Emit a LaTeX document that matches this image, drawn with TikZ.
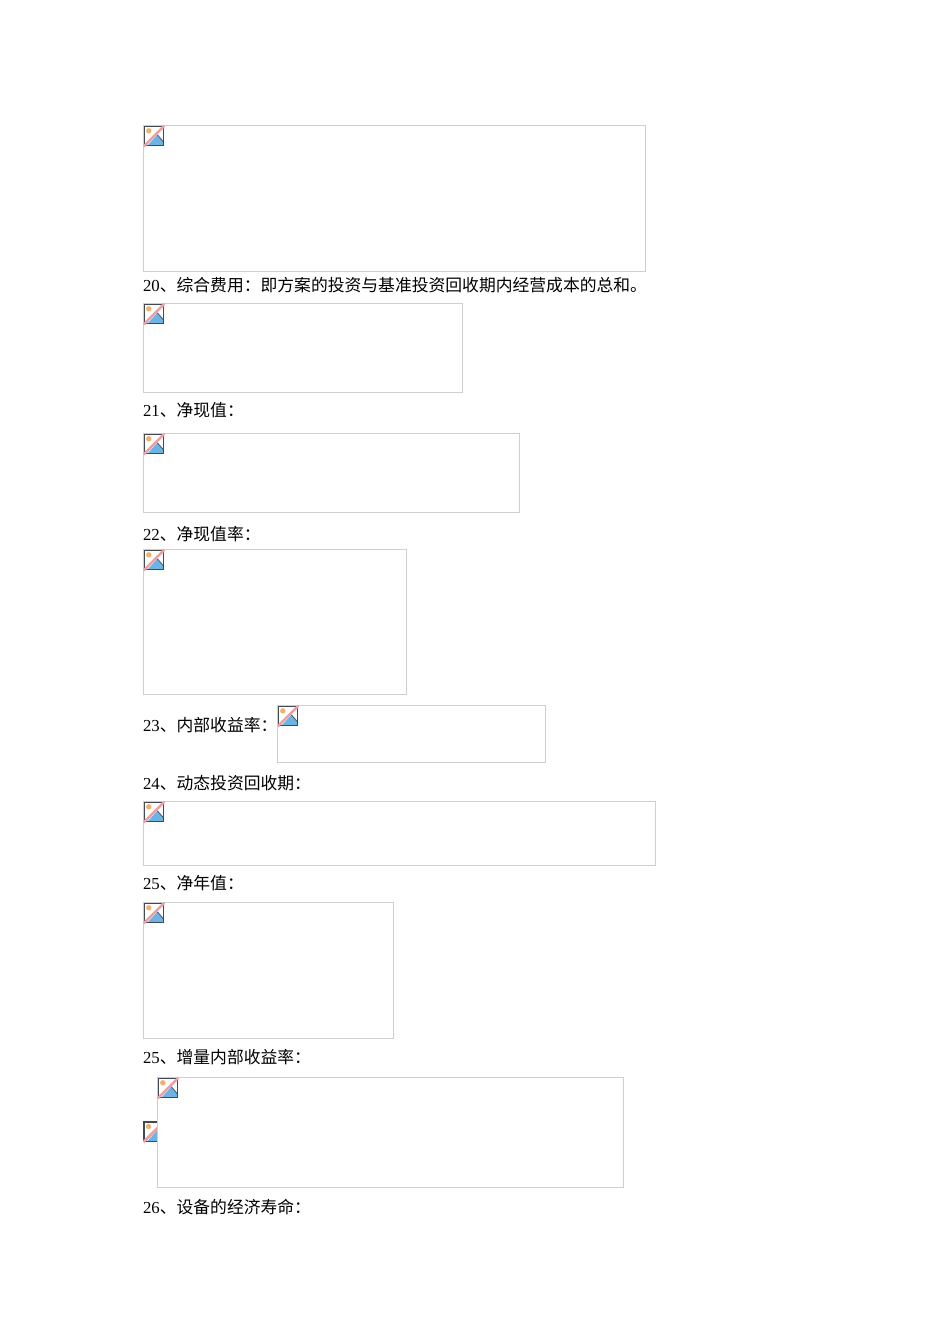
\documentclass[tikz,border=0pt]{standalone}
\usepackage{fontspec}
\setmainfont{Liberation Serif}
\newfontfamily\cjk{Noto Sans CJK SC}
\definecolor{boxgray}{HTML}{CFCFCF}
\definecolor{icondark}{HTML}{3F4A55}
\definecolor{iconblue}{HTML}{6DB3E3}
\definecolor{iconsun}{HTML}{F2B06E}
\definecolor{iconslash}{HTML}{E8A0A4}
\newcommand{\brokenicon}[2]{%
  \begin{scope}[shift={(#1,#2)}]
    \fill[white] (0,0) rectangle (19.5,19.5);
    \fill[iconsun] (4.5,4.5) circle (2.7);
    \fill[iconblue] (3,19.5) -- (13,8.5) -- (19.5,16) -- (19.5,19.5) -- cycle;
    \draw[icondark!70!iconblue,line width=1] (13,8.5) -- (19.5,16);
    \draw[icondark,line width=1.2] (0,0) rectangle (19.5,19.5);
    \draw[iconslash,line width=2.5] (-0.5,20) -- (20,-0.5);
  \end{scope}}
\newcommand{\imgbox}[5]{%
  \node[imgframe,anchor=north west,minimum width=#4-#2,minimum height=#5-#3] (#1) at (#2,#3) {};
  \brokenicon{#2+0.8}{#3+0.8}}
\tikzset{
  imgframe/.style={draw=boxgray,line width=0.9pt,fill=white,inner sep=0pt,outer sep=0pt},
  line/.style={anchor=base west,inner sep=0pt,outer sep=0pt,font=\fontsize{16.8}{18}\selectfont}
}
\begin{document}
\begin{tikzpicture}[x=1pt,y=-1pt]
\useasboundingbox[fill=white] (0,0) rectangle (950,1344);
\imgbox{b1}{143.5}{125.5}{645.5}{271.5}
\node[line] (t20) at (143,291) {20{\cjk 、综合费用：即方案的投资与基准投资回收期内经营成本的总和。}};
\imgbox{b2}{143.5}{303.5}{462.5}{392.5}
\node[line] (t21) at (143,416) {21{\cjk 、净现值：}};
\imgbox{b3}{143.5}{433.5}{519.5}{512.5}
\node[line] (t22) at (143,540) {22{\cjk 、净现值率：}};
\imgbox{b4}{143.5}{549.5}{406.5}{694.5}
\node[line] (t23) at (143,731) {23{\cjk 、内部收益率：}};
\imgbox{b5}{277.5}{705.5}{545.5}{762.5}
\node[line] (t24) at (143,789) {24{\cjk 、动态投资回收期：}};
\imgbox{b6}{143.5}{801.5}{655.5}{865.5}
\node[line] (t25) at (143,889) {25{\cjk 、净年值：}};
\imgbox{b7}{143.5}{902.5}{393.5}{1038.5}
\node[line] (t25b) at (143,1063) {25{\cjk 、增量内部收益率：}};
\brokenicon{144}{1122}
\imgbox{b8}{157.5}{1077.5}{623.5}{1187.5}
\node[line] (t26) at (143,1213) {26{\cjk 、设备的经济寿命：}};
\end{tikzpicture}
\end{document}
